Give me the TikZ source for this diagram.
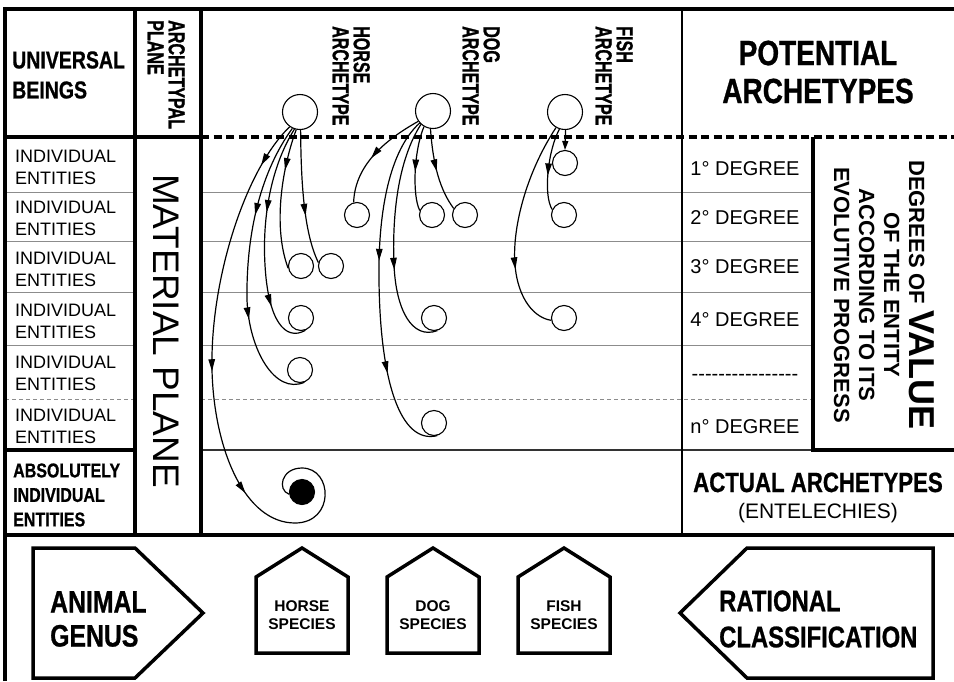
\documentclass[tikz,border=0pt]{standalone}
\usepackage{fontspec}
\setmainfont{Liberation Sans}
\newfontfamily\condfont[FakeStretch=0.8, BoldFeatures={FakeBold=0.8}]{Liberation Sans}
\newfontfamily\narrowfont[FakeStretch=0.7, BoldFeatures={FakeBold=1}]{Liberation Sans}
\usetikzlibrary{positioning,arrows.meta,decorations.markings}
\newcommand{\hyph}{-\kern0pt}

\begin{document}
\begin{tikzpicture}[x=1pt, y=1pt,
  >={Triangle[length=12pt,width=6.5pt]},
  heavy/.style={line width=3.5pt},
  rowline/.style={line width=0.9pt, black!45},
  rowdash/.style={rowline, dash pattern=on 4pt off 3pt},
  arch/.style={circle, draw, fill=white, line width=1.1pt, minimum size=35pt, inner sep=0pt},
  ent/.style={circle, draw, fill=white, line width=1.1pt, minimum size=25pt, inner sep=0pt},
  dotent/.style={ent, fill=black},
  flow/.style={line width=1.2pt},
  tipat/.style={postaction={decorate, decoration={markings, mark=at position #1 with {\arrow{>}}}}},
  indiv/.style={anchor=west, align=left, inner sep=0pt, font=\fontsize{18}{22}\selectfont},
  degree/.style={anchor=base, inner sep=0pt, font=\fontsize{20}{24}\selectfont},
  vlabel/.style={rotate=-90, anchor=north west, align=left, inner sep=0pt,
                 font=\narrowfont\bfseries\fontsize{23}{21}\selectfont},
  cond/.style={align=left, inner sep=0pt},
  species/.style={align=center, inner sep=0pt, font=\bfseries\fontsize{15.5}{18}\selectfont},
  tagshape/.style={line width=3.5pt, line join=miter},
]
\useasboundingbox (0,0) rectangle (954,-681);

% rows
\foreach \yy in {192,241,292,345}{
  \draw[rowline] (5,-\yy) -- (135,-\yy);
  \draw[rowline] (201,-\yy) -- (813,-\yy);
}
\draw[rowdash] (5,-399) -- (135,-399);
\draw[rowdash] (201,-399) -- (813,-399);
\draw[line width=1.3pt, black!80] (201,-450) -- (813,-450);

% frame
\draw[heavy] (5,-681) -- (5,-9) -- (954,-9);
\draw[heavy] (135,-9) -- (135,-535);
\draw[heavy] (201,-9) -- (201,-535);
\draw[line width=2.5pt] (682,-9) -- (682,-535);
\draw[heavy] (5,-137) -- (201,-137);
\draw[heavy, dash pattern=on 8pt off 4.5pt] (201,-137) -- (954,-137);
\draw[heavy] (813,-137) -- (813,-450) -- (954,-450);
\draw[heavy] (5,-450) -- (135,-450);
\draw[heavy] (5,-535) -- (954,-535);

% left columns
\node[cond, anchor=west, font=\condfont\bfseries\fontsize{24.4}{30}\selectfont] (univ) at (12,-75) {UNIVERSAL\\BEINGS};
\foreach \yy [count=\k] in {167,218,269,321,373,426}
  \node[indiv] (ind\k) at (15,-\yy) {INDIVIDUAL\\ENTITIES};
\node[cond, anchor=west, font=\condfont\bfseries\fontsize{20}{24.5}\selectfont] (absol) at (13,-495) {ABSOLUTELY\\INDIVIDUAL\\ENTITIES};
\node[vlabel] (archplane) at (185,-20) {ARCHETYPAL\\PLANE};
\node[rotate=-90, inner sep=0pt, font=\fontsize{37}{40}\selectfont] (matplane) at (166,-331) {MATERIAL PLANE};

% archetypes
\node[vlabel] (horselab) at (370,-26) {HORSE\\ARCHETYPE};
\node[vlabel] (doglab) at (500,-26) {DOG\\ARCHETYPE};
\node[vlabel] (fishlab) at (633,-26) {FISH\\ARCHETYPE};
\node[arch] (horse) at (300,-112) {};
\node[arch] (dog) at (433,-111) {};
\node[arch] (fish) at (565,-112) {};

% entities
\node[ent] (h3a) at (301,-266) {};
\node[ent] (h3b) at (331,-266) {};
\node[ent] (h4) at (301,-318) {};
\node[ent] (h5) at (300,-370) {};
\node[dotent] (hdot) at (302,-492) {};
\node[ent] (d2a) at (357,-215) {};
\node[ent] (d2b) at (432,-215) {};
\node[ent] (d2c) at (465,-215) {};
\node[ent] (d4) at (434,-318) {};
\node[ent] (d6) at (434,-423) {};
\node[ent] (f1) at (565,-163) {};
\node[ent] (f2) at (564,-215) {};
\node[ent] (f4) at (564,-318) {};

% horse lines
\draw[flow, tipat=48pt, tipat=262pt, tipat=390pt] (horse.235)
  .. controls (245,-170) and (210,-280) .. (212,-370)
  .. controls (214,-450) and (245,-523) .. (295,-523)
  .. controls (335,-523) and (333,-468) .. (302,-468)
  .. controls (281,-468) and (277,-490) .. (hdot.190);
\draw[flow, tipat=95pt, tipat=200pt] (horse.245)
  .. controls (262,-170) and (246,-230) .. (247,-300)
  .. controls (249,-350) and (275,-395) .. (h5.-70);
\draw[flow, tipat=88pt, tipat=183pt] (horse.252)
  .. controls (272,-165) and (262,-215) .. (265,-265)
  .. controls (268,-320) and (285,-342) .. (h4.-70);
\draw[flow, tipat=42pt] (horse.258) .. controls (283,-165) and (272,-225) .. (h3a.190);
\draw[flow, tipat=86pt] (horse.272) .. controls (301,-190) and (305,-235) .. (h3b.165);

% dog lines
\draw[flow, tipat=60pt] (dog.215) .. controls (385,-140) and (355,-165) .. (d2a.105);
\draw[flow, tipat=46pt] (dog.240) .. controls (414,-150) and (412,-195) .. (d2b.160);
\draw[flow, tipat=43pt] (dog.262) .. controls (433,-165) and (440,-190) .. (d2c.150);
\draw[flow, tipat=150pt] (dog.228)
  .. controls (398,-160) and (392,-215) .. (394,-265)
  .. controls (396,-310) and (412,-340) .. (d4.-75);
\draw[flow, tipat=147pt, tipat=260pt] (dog.222)
  .. controls (390,-150) and (378,-210) .. (379,-280)
  .. controls (380,-380) and (400,-445) .. (d6.-75);

% fish lines
\draw[flow, -{Triangle[length=9pt,width=6pt]}] (fish.272) -- (f1.north);
\draw[flow, tipat=48pt] (fish.252) .. controls (548,-150) and (543,-195) .. (f2.155);
\draw[flow, tipat=150pt] (fish.240)
  .. controls (525,-175) and (512,-230) .. (515,-265)
  .. controls (518,-300) and (535,-318) .. (f4.190);

% right columns
\node[cond, align=center, font=\condfont\bfseries\fontsize{35}{38}\selectfont] (potential) at (818,-72) {POTENTIAL\\ARCHETYPES};
\foreach \lab/\yy [count=\k] in {1/175,2/224,3/273,4/326}
  \node[degree] (deg\k) at (745,-\yy) {\lab° DEGREE};
\node[degree] (degdots) at (745,-380) {\hyph\hyph\hyph\hyph\hyph\hyph\hyph\hyph\hyph\hyph\hyph\hyph\hyph\hyph\hyph\hyph};
\node[degree] (degn) at (745,-433) {n° DEGREE};
\node[rotate=-90, align=center, inner sep=0pt, font=\bfseries\fontsize{22}{25}\selectfont] (valuetext) at (884,-295)
  {DEGREES OF {\fontsize{36}{25}\selectfont VALUE}\\OF THE ENTITY\\ACCORDING TO ITS\\EVOLUTIVE PROGRESS};
\node[cond, anchor=base, font=\condfont\bfseries\fontsize{27.8}{30}\selectfont] (actual) at (818,-492) {ACTUAL ARCHETYPES};
\node[anchor=base, inner sep=0pt, font=\fontsize{21}{24}\selectfont] (entel) at (818,-518) {(ENTELECHIES)};

% bottom
\draw[tagshape] (33,-548) -- (135,-548) -- (203,-613) -- (135,-678) -- (33,-678) -- cycle;
\node[cond, anchor=west, font=\condfont\bfseries\fontsize{31}{34}\selectfont] (genus) at (50,-619) {ANIMAL\\GENUS};
\foreach \cx/\nm/\lab in {302/horse/HORSE, 433/dog/DOG, 564/fish/FISH}{
  \draw[tagshape] (\cx-46,-653) -- (\cx-46,-577) -- (\cx,-548) -- (\cx+46,-577) -- (\cx+46,-653) -- cycle;
  \node[species] (\nm sp) at (\cx,-615) {\lab\\SPECIES};
}
\draw[tagshape] (933,-548) -- (747,-548) -- (680,-613) -- (747,-678) -- (933,-678) -- cycle;
\node[cond, anchor=west, font=\condfont\bfseries\fontsize{29.8}{36}\selectfont] (ratclass) at (719,-619) {RATIONAL\\CLASSIFICATION};
\end{tikzpicture}
\end{document}
